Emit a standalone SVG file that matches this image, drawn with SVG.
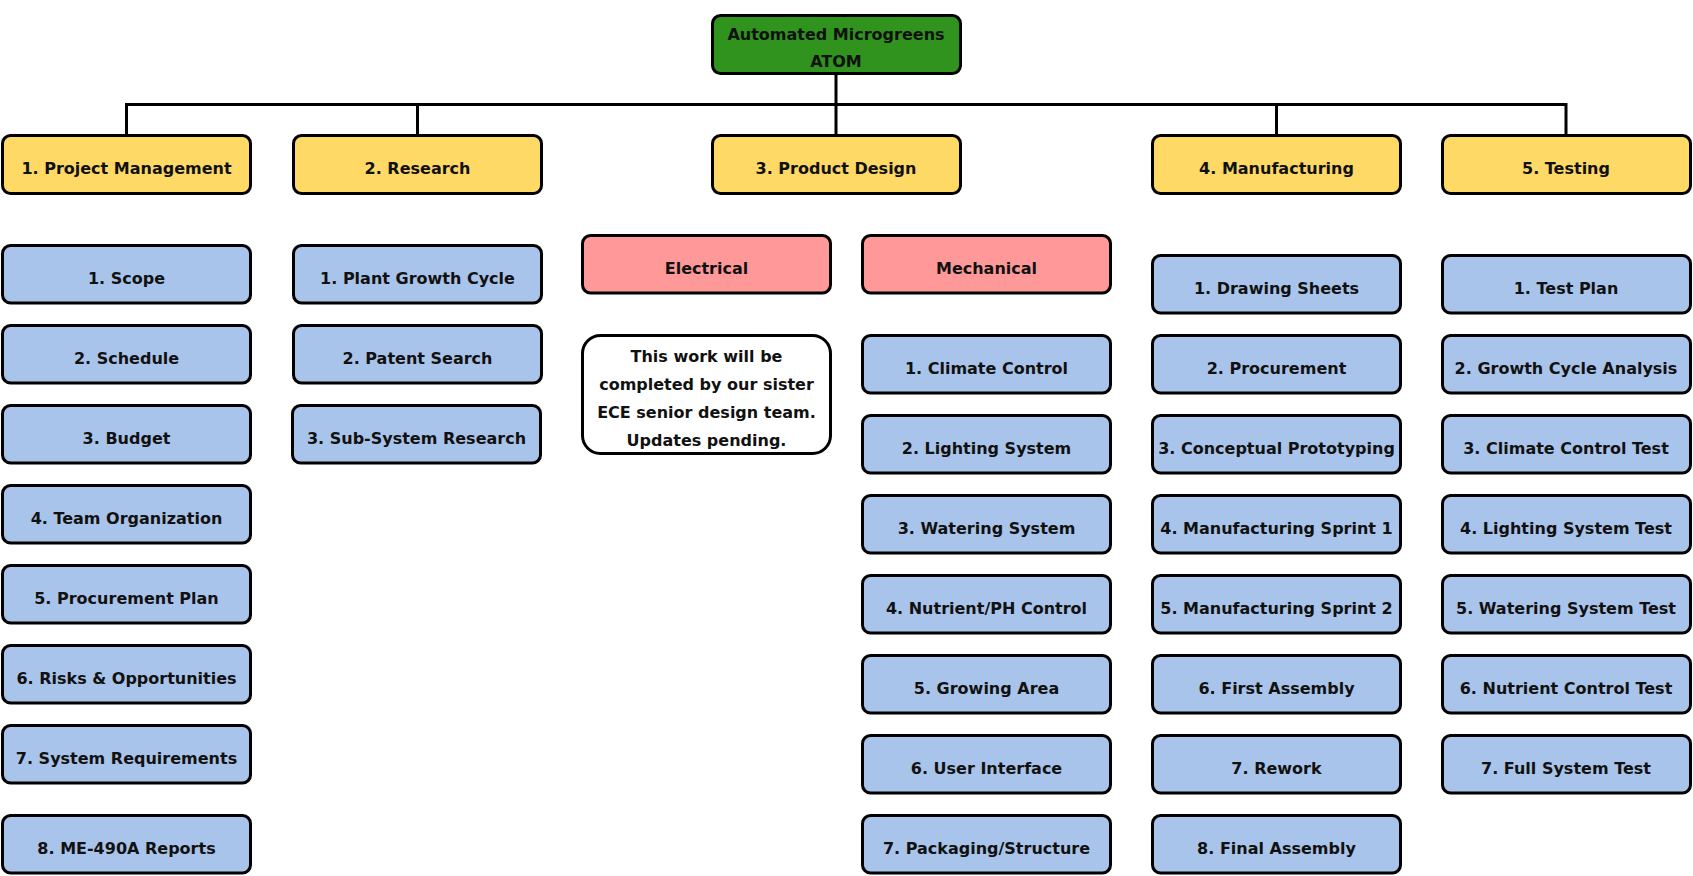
<svg xmlns="http://www.w3.org/2000/svg" width="1693" height="876" viewBox="0 0 1693 876">
<style>
.b{stroke:#000;stroke-width:3}
.root{fill:#2f931d}
.l1{fill:#ffd966}
.leaf{fill:#a9c4eb}
.sub{fill:#ff9999}
.note{fill:#ffffff}
text{font-family:"DejaVu Sans","Verdana",sans-serif;font-weight:bold;font-size:16px;fill:#111;text-anchor:middle}
.conn{stroke:#000;stroke-width:3;fill:none}
</style>
<rect width="1693" height="876" fill="#fff"/>
<g id="connectors">
<path class="conn" d="M836,75 V104.5 M126.5,134 V104.5 H1566 V134 M417.5,104.5 V134 M836,104.5 V134 M1276.5,104.5 V134"/>
</g>
<g id="root"><rect class="b root" x="712.5" y="15.5" width="248" height="58" rx="8"/><text x="836" y="39.5">Automated Microgreens</text><text x="836" y="67">ATOM</text></g>
<g id="pm"><rect class="b l1" x="2.5" y="135.5" width="248" height="58" rx="8"/><text x="126.5" y="173.5">1. Project Management</text></g>
<g id="research"><rect class="b l1" x="293.5" y="135.5" width="248" height="58" rx="8"/><text x="417.5" y="173.5">2. Research</text></g>
<g id="product-design"><rect class="b l1" x="712.5" y="135.5" width="248" height="58" rx="8"/><text x="836" y="173.5">3. Product Design</text></g>
<g id="manufacturing"><rect class="b l1" x="1152.5" y="135.5" width="248" height="58" rx="8"/><text x="1276.5" y="173.5">4. Manufacturing</text></g>
<g id="testing"><rect class="b l1" x="1442.5" y="135.5" width="248" height="58" rx="8"/><text x="1566" y="173.5">5. Testing</text></g>

<g id="pm-1"><rect class="b leaf" x="2.5" y="245.5" width="248" height="57.5" rx="8"/><text x="126.5" y="283.5">1. Scope</text></g>
<g id="pm-2"><rect class="b leaf" x="2.5" y="325.5" width="248" height="57.5" rx="8"/><text x="126.5" y="363.5">2. Schedule</text></g>
<g id="pm-3"><rect class="b leaf" x="2.5" y="405.5" width="248" height="57.5" rx="8"/><text x="126.5" y="443.5">3. Budget</text></g>
<g id="pm-4"><rect class="b leaf" x="2.5" y="485.5" width="248" height="57.5" rx="8"/><text x="126.5" y="523.5">4. Team Organization</text></g>
<g id="pm-5"><rect class="b leaf" x="2.5" y="565.5" width="248" height="57.5" rx="8"/><text x="126.5" y="603.5">5. Procurement Plan</text></g>
<g id="pm-6"><rect class="b leaf" x="2.5" y="645.5" width="248" height="57.5" rx="8"/><text x="126.5" y="683.5">6. Risks &amp; Opportunities</text></g>
<g id="pm-7"><rect class="b leaf" x="2.5" y="725.5" width="248" height="57.5" rx="8"/><text x="126.5" y="763.5">7. System Requirements</text></g>
<g id="pm-8"><rect class="b leaf" x="2.5" y="815.5" width="248" height="57.5" rx="8"/><text x="126.5" y="853.5">8. ME-490A Reports</text></g>

<g id="res-1"><rect class="b leaf" x="293.5" y="245.5" width="248" height="57.5" rx="8"/><text x="417.5" y="283.5">1. Plant Growth Cycle</text></g>
<g id="res-2"><rect class="b leaf" x="293.5" y="325.5" width="248" height="57.5" rx="8"/><text x="417.5" y="363.5">2. Patent Search</text></g>
<g id="res-3"><rect class="b leaf" x="292.5" y="405.5" width="248" height="57.5" rx="8"/><text x="416.5" y="443.5">3. Sub-System Research</text></g>

<g id="electrical"><rect class="b sub" x="582.5" y="235.5" width="248" height="57.5" rx="8"/><text x="706.5" y="273.5">Electrical</text></g>
<g id="mechanical"><rect class="b sub" x="862.5" y="235.5" width="248" height="57.5" rx="8"/><text x="986.5" y="273.5">Mechanical</text></g>
<g id="electrical-note"><rect class="b note" x="582.5" y="335.5" width="248" height="118" rx="18"/><text x="706.5" y="361.7">This work will be</text><text x="706.5" y="389.7">completed by our sister</text><text x="706.5" y="417.7">ECE senior design team.</text><text x="706.5" y="445.7">Updates pending.</text></g>

<g id="mech-1"><rect class="b leaf" x="862.5" y="335.5" width="248" height="57.5" rx="8"/><text x="986.5" y="373.5">1. Climate Control</text></g>
<g id="mech-2"><rect class="b leaf" x="862.5" y="415.5" width="248" height="57.5" rx="8"/><text x="986.5" y="453.5">2. Lighting System</text></g>
<g id="mech-3"><rect class="b leaf" x="862.5" y="495.5" width="248" height="57.5" rx="8"/><text x="986.5" y="533.5">3. Watering System</text></g>
<g id="mech-4"><rect class="b leaf" x="862.5" y="575.5" width="248" height="57.5" rx="8"/><text x="986.5" y="613.5">4. Nutrient/PH Control</text></g>
<g id="mech-5"><rect class="b leaf" x="862.5" y="655.5" width="248" height="57.5" rx="8"/><text x="986.5" y="693.5">5. Growing Area</text></g>
<g id="mech-6"><rect class="b leaf" x="862.5" y="735.5" width="248" height="57.5" rx="8"/><text x="986.5" y="773.5">6. User Interface</text></g>
<g id="mech-7"><rect class="b leaf" x="862.5" y="815.5" width="248" height="57.5" rx="8"/><text x="986.5" y="853.5">7. Packaging/Structure</text></g>

<g id="mfg-1"><rect class="b leaf" x="1152.5" y="255.5" width="248" height="57.5" rx="8"/><text x="1276.5" y="293.5">1. Drawing Sheets</text></g>
<g id="mfg-2"><rect class="b leaf" x="1152.5" y="335.5" width="248" height="57.5" rx="8"/><text x="1276.5" y="373.5">2. Procurement</text></g>
<g id="mfg-3"><rect class="b leaf" x="1152.5" y="415.5" width="248" height="57.5" rx="8"/><text x="1276.5" y="453.5">3. Conceptual Prototyping</text></g>
<g id="mfg-4"><rect class="b leaf" x="1152.5" y="495.5" width="248" height="57.5" rx="8"/><text x="1276.5" y="533.5">4. Manufacturing Sprint 1</text></g>
<g id="mfg-5"><rect class="b leaf" x="1152.5" y="575.5" width="248" height="57.5" rx="8"/><text x="1276.5" y="613.5">5. Manufacturing Sprint 2</text></g>
<g id="mfg-6"><rect class="b leaf" x="1152.5" y="655.5" width="248" height="57.5" rx="8"/><text x="1276.5" y="693.5">6. First Assembly</text></g>
<g id="mfg-7"><rect class="b leaf" x="1152.5" y="735.5" width="248" height="57.5" rx="8"/><text x="1276.5" y="773.5">7. Rework</text></g>
<g id="mfg-8"><rect class="b leaf" x="1152.5" y="815.5" width="248" height="57.5" rx="8"/><text x="1276.5" y="853.5">8. Final Assembly</text></g>

<g id="test-1"><rect class="b leaf" x="1442.5" y="255.5" width="248" height="57.5" rx="8"/><text x="1566" y="293.5">1. Test Plan</text></g>
<g id="test-2"><rect class="b leaf" x="1442.5" y="335.5" width="248" height="57.5" rx="8"/><text x="1566" y="373.5">2. Growth Cycle Analysis</text></g>
<g id="test-3"><rect class="b leaf" x="1442.5" y="415.5" width="248" height="57.5" rx="8"/><text x="1566" y="453.5">3. Climate Control Test</text></g>
<g id="test-4"><rect class="b leaf" x="1442.5" y="495.5" width="248" height="57.5" rx="8"/><text x="1566" y="533.5">4. Lighting System Test</text></g>
<g id="test-5"><rect class="b leaf" x="1442.5" y="575.5" width="248" height="57.5" rx="8"/><text x="1566" y="613.5">5. Watering System Test</text></g>
<g id="test-6"><rect class="b leaf" x="1442.5" y="655.5" width="248" height="57.5" rx="8"/><text x="1566" y="693.5">6. Nutrient Control Test</text></g>
<g id="test-7"><rect class="b leaf" x="1442.5" y="735.5" width="248" height="57.5" rx="8"/><text x="1566" y="773.5">7. Full System Test</text></g>
</svg>
